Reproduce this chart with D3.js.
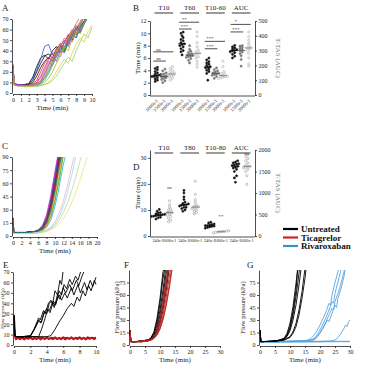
<!DOCTYPE html>
<html><head><meta charset="utf-8">
<script src="https://cdn.jsdelivr.net/npm/d3@7"></script>
<style>body{margin:0;background:#fff}svg{display:block}text{font-family:"Liberation Serif","Times New Roman",serif}</style>
</head><body><svg id="c" width="369" height="369"></svg>
<script>
// ---------- DATA ----------
const A_times=[0,0.15,0.5,1,1.5,2,2.5,3,3.5,4,4.5,5,5.5,6,6.5,7,7.5,8,8.5,9,9.5,10];
const A_colors=["#000","#000","#111","#2f4fd0","#e02020","#d020c0","#f07aa8","#f09a10","#2a9a2a","#8040c0","#20b0c0","#e0d030","#90d070","#909090","#b0b020","#e06060"];
const A_values=[
[25,9,8,8,8,9,15,25,33,36,32,40,44,38,48,55,50,60,66,72],
[24,9,8,7,8,8,12,20,28,35,37,33,42,46,40,50,56,52,62,68,74],
[23,8,7,7,7,8,10,16,24,30,34,30,38,43,38,48,54,60,57,65,72],
[24,9,8,8,8,9,14,22,32,44,46,36,40,47,42,52,58,55,63,68,74],
[27,9,8,7,7,8,9,12,20,28,34,30,40,46,42,54,60,56,64,72],
[27,9,8,8,7,7,8,10,16,24,32,38,34,44,50,46,56,62,58,66,72],
[24,8,7,7,7,7,8,9,12,20,28,36,42,38,48,56,52,62,68,74],
[24,8,7,7,7,7,7,8,10,16,24,32,40,46,42,52,60,56,66,72],
[23,8,7,7,7,7,7,7,9,14,20,28,36,44,40,50,58,64,60,68,74],
[24,8,8,7,7,7,8,9,11,18,26,34,30,40,48,44,54,62,58,67,72],
[23,8,7,7,7,7,7,8,9,12,18,26,34,42,38,48,56,52,62,66,72],
[22,8,7,7,6,6,6,7,7,8,10,14,20,26,32,28,38,46,52,48,58,64],
[22,8,7,7,6,6,6,6,7,8,9,12,16,22,28,34,30,40,48,56,52,62],
[23,8,7,7,7,7,7,8,10,15,22,30,38,34,44,52,48,58,64,72],
[23,8,7,7,7,7,7,7,8,10,14,20,28,36,44,40,52,60,56,66,72],
[24,8,7,7,7,7,8,10,14,22,30,26,36,44,52,48,58,66,72]
];
const C_times=[0,0.2,1,2,3,4,5,6,7,8,9,10,11,12,13,14,15,16,17,18,19,20];
const C_colors=["#000","#111","#6a2aa0","#2040c0","#e02020","#d020c0","#f08a10","#2a9a2a","#20b0c0","#c0a010","#8a4a20","#f4b0c8","#b0e090","#f0e080","#a0d8f0","#909090","#a01010","#108080"];
const C_values=[
[20,4,4,4,4,5,5,6,9,18,36,62,92],
[19,4,4,4,4,4,5,6,8,15,30,55,85,100],
[20,4,4,4,4,5,5,7,11,22,42,70,98],
[20,4,4,4,4,4,5,6,10,20,40,66,95],
[21,4,4,4,4,4,5,6,8,16,32,56,82,100],
[20,4,4,4,4,5,5,7,12,24,46,74,100],
[19,4,4,4,4,4,4,5,7,13,26,48,74,98],
[19,4,4,4,4,4,4,5,7,12,22,40,64,92],
[19,4,4,4,4,4,4,5,6,10,18,34,56,82,100],
[19,4,4,4,4,4,4,5,6,11,22,42,68,95],
[20,4,4,4,4,4,5,6,9,18,36,60,88,100],
[18,4,4,4,4,4,4,4,5,7,10,16,26,40,58,80,100],
[18,3,3,3,3,3,3,4,4,6,8,12,18,27,38,52,68,86,100],
[18,3,3,3,3,3,3,3,4,5,7,10,14,20,28,38,50,64,80,95],
[18,3,3,3,3,3,3,4,5,6,9,14,22,34,50,70,92],
[19,4,4,4,4,4,5,6,8,14,28,50,78,100],
[20,4,4,4,4,5,5,6,9,17,34,58,86,100],
[19,4,4,4,4,4,5,6,8,15,30,52,80,100]
];
const E_black=[
[[0,28],[0.1,10],[0.3,8],[1,8],[2,8.5],[2.4,14],[2.8,22],[3,26],[3.2,24],[3.6,33],[3.8,30],[4.2,40],[4.5,43],[4.7,39],[5,52],[5.3,48],[5.6,62],[5.8,58],[6,72]],
[[0,28],[0.1,9],[0.3,8],[1,8],[2,9],[2.5,16],[3,24],[3.3,22],[3.7,32],[4,30],[4.3,40],[4.6,42],[4.9,36],[5.3,48],[5.6,44],[6,55],[6.3,50],[6.8,58],[7.1,52],[7.6,62],[7.9,57],[8.3,66],[8.6,72]],
[[0,28],[0.1,9],[0.3,8],[1,7.5],[2,8],[3,8],[3.4,16],[3.8,26],[4.1,34],[4.4,31],[4.8,42],[5.1,39],[5.5,52],[5.8,48],[6.1,58],[6.4,54],[6.8,63],[7.1,58],[7.5,66],[7.8,62],[8.2,72]],
[[0,28],[0.1,9],[0.3,8],[1,8],[2,8],[3,8],[4,8],[4.5,9],[5,15],[5.5,22],[6,28],[6.5,35],[7,40],[7.3,37],[7.7,46],[8,42],[8.4,52],[8.7,47],[9.1,57],[9.4,52],[9.8,62],[10,58]],
[[0,28],[0.1,9],[0.3,8],[1,8],[2,8.5],[2.5,15],[3,23],[3.3,21],[3.7,31],[4,35],[4.3,33],[4.7,41],[5,38],[5.5,48],[5.8,43],[6.2,50],[6.5,45],[7,55],[7.3,48],[7.8,58],[8.1,50],[8.6,60],[8.9,53],[9.3,62],[9.6,56],[10,65]]
];
const E_red_times=[0,0.1,0.25,0.5,0.75,1,1.25,1.5,1.75,2,2.25,2.5,2.75,3,3.25,3.5,3.75,4,4.25,4.5,4.75,5,5.25,5.5,5.75,6,6.25,6.5,6.75,7,7.25,7.5,7.75,8,8.25,8.5,8.75,9,9.25,9.5,9.75,10];
const E_red=[
[29,9,6,7,6,7.5,6,7,6.5,7.5,6,7,6,7.5,6.5,7,6,7.5,6,7,6.5,7.5,6,7,6,7.5,6.5,7,6,7.5,6,7,6.5,7.5,6,7,6,7.5,6.5,7,6.5,7],
[27,8,5.5,6.5,5.5,6.8,5.2,6.6,5.8,7,5.4,6.4,5.6,6.9,5.3,6.7,5.5,7.1,5.6,6.5,5.4,6.8,5.7,6.3,5.5,7,5.3,6.6,5.8,6.9,5.4,6.5,5.6,7,5.5,6.7,5.3,6.6,5.7,6.9,5.5,6.4]
];
const F_times=[0,0.3,2,4,6,7,8,9,10,11,12,13,14,15,16];
const F_black=[
[18,4,4,5,6,8,14,28,50,80,100],
[18,4,4,5,6,7,11,20,36,58,85,100],
[17,4,4,5,6,8,13,24,42,66,95],
[17,4,4,4,5,7,10,17,30,48,72,98],
[18,4,4,5,6,9,16,32,56,88,100],
[17,4,4,4,5,6,9,15,26,42,64,90]
];
const F_red=[
[17,4,4,5,6,7,10,18,32,52,78,100],
[17,4,4,4,5,6,8,13,22,36,56,80,100],
[17,4,4,4,5,6,8,12,20,32,48,70,95],
[17,4,4,5,5,7,9,15,27,44,68,96],
[16,4,4,4,5,6,8,12,19,30,46,66,90,100]
];
const G_black=[
[[0,18],[0.3,4],[4,4.5],[6,5.5],[8,8],[9,14],[10,26],[11,46],[12,74],[12.8,100]],
[[0,18],[0.3,4],[4,4.5],[6,5.5],[8,7],[9,11],[10,20],[11,36],[12,58],[13,86],[13.5,100]],
[[0,17],[0.3,4],[4,4.5],[6,5],[8,6.5],[9,10],[10,17],[11,30],[12,48],[13,72],[14,100]],
[[0,17],[0.3,4],[4,4.5],[6,5],[8,6],[10,10],[11,16],[12,26],[13,42],[14,64],[15,92]],
[[0,18],[0.3,4],[4,4.5],[6,5],[8,6],[10,9],[11,14],[12,22],[13,36],[14,56],[15,80],[15.6,100]],
[[0,18],[0.3,4],[4,4.5],[6,5.5],[8,7.5],[9,12],[10,22],[11,40],[12,66],[12.7,95]]
];
const G_blue=[
[[0,4],[5,4],[10,4.5],[14,5],[16,6],[17,8],[18,12],[19,17],[20,24],[21,32],[22,40],[23,50],[23.5,48],[24,60],[25,75],[26,88],[26.5,100]],
[[0,4],[5,4],[10,4.5],[15,5],[17,6],[18,8],[19,12],[20,18],[21,25],[22,33],[23,42],[24,52],[24.5,50],[25,62],[26,76],[27,90],[27.5,100]],
[[0,4],[5,4],[10,4.5],[15,5],[17,6],[18,7],[19,10],[20,15],[21,21],[22,28],[23,36],[24,44],[24.5,42],[25,52],[26,62],[27,74],[28,88],[28.5,100]],
[[0,4],[10,4.5],[16,5],[18,6],[19,9],[20,14],[21,20],[22,27],[22.5,30],[23,28],[24,38],[25,48],[25.5,45],[26,56],[27,68],[28,82],[28.7,100]],
[[0,4],[10,4],[20,4.5],[24,5],[25,6],[26,9],[27,14],[28,20],[28.5,24],[29,22],[29.5,28],[30,30]],
[[0,4],[5,3.5],[10,4],[15,4],[20,4],[25,4.5],[30,4.5]],
[[0,3.5],[10,3.5],[20,3.8],[30,4]]
];
const B_groups=["T10","T60","T10-60","AUC"];
const B_rates=["1000s-1","1500s-1","2000s-1"];
const B_T10=[[2.2,2.4,2.6,2.8,3.0,3.0,3.1,3.2,3.3,3.4,3.6,3.8,4.1,4.3,4.5],[2.0,2.3,2.5,2.7,2.8,2.9,3.0,3.1,3.3,3.4,3.6,3.9,4.2],[2.4,2.7,2.9,3.1,3.2,3.3,3.5,3.6,3.8,4.0,4.3,4.6,3.4]];
const B_T60=[[6.5,7.0,7.2,7.5,7.8,8.0,8.2,8.3,8.5,8.8,9.0,9.3,9.6,10.0,10.2],[5.2,5.6,5.9,6.1,6.2,6.3,6.4,6.5,6.6,6.7,6.9,7.1,7.4,8.0],[4.5,5.0,5.5,6.0,6.2,6.5,6.7,6.8,7.0,7.3,7.8,8.5,9.5,10.2]];
const B_T1060=[[2.4,3.5,3.8,4.0,4.2,4.4,4.5,4.6,4.8,5.0,5.2,5.4,5.7,6.0],[2.7,3.0,3.2,3.3,3.4,3.5,3.6,3.7,3.9,4.1,4.4],[2.7,2.8,2.9,3.0,3.0,3.1,3.2,3.3,3.5,3.8,4.6,5.5]];
const B_AUC=[[250,262,275,285,292,298,302,306,310,318,325,335],[195,240,265,280,290,300,308,315,322,330,334],[195,210,250,280,300,310,318,325,335,350,370,395,425]];
const B_sig=[{g:0,a:0,b:1,v:5.5,t:"ns"},{g:0,a:0,b:2,v:7.0,t:"ns"},{g:1,a:0,b:1,v:10.7,t:"***"},{g:1,a:0,b:2,v:11.8,t:"**"},{g:2,a:0,b:1,v:7.5,t:"***"},{g:2,a:0,b:2,v:8.7,t:"***"},{g:3,a:0,b:1,v:426,t:"***"},{g:3,a:0,b:2,v:477,t:"*"}];
const D_groups=["T10","T80","T10-80","AUC"];
const D_rates=["240s-1","1600s-1"];
const D_T10=[[6.5,7.0,7.2,7.5,7.6,7.8,8.0,8.0,8.2,8.3,8.5,8.8,9.0,9.5,10.2],[5.5,6.0,6.8,7.5,8.0,8.5,8.8,9.0,9.2,9.5,10.0,10.5,11.0,12.0,13.5]];
const D_T80=[[9.5,10.0,10.5,11.0,11.0,11.5,11.8,12.0,12.0,12.3,12.5,13.0,14.0,15.0,16.5,17.5],[8.5,9.0,9.5,10.0,10.5,10.8,11.0,11.2,11.5,12.0,13.0,14.0,16.0,21.0]];
const D_T1080=[[3.0,3.3,3.5,3.7,3.8,4.0,4.0,4.2,4.4,4.6,5.0,5.3],[1.2,1.4,1.5,1.6,1.7,1.8,1.9,2.0]];
const D_AUC=[[1250,1350,1400,1500,1550,1580,1600,1620,1640,1650,1670,1680,1700,1720,1750],[1200,1400,1500,1550,1580,1600,1620,1620,1650,1700,1750,1800,1850,1900]];
const D_sig=[{g:0,c:1,v:18,t:"ns"},{g:2,c:1,v:7,t:"**"},{g:3,c:1,v:1880,t:"ns"}];
const legendLabels=["Untreated","Ticagrelor","Rivaroxaban"];
const legendColors=["#000","#d42020","#3a8fc8"];

// ---------- DRAW ----------
const svg=d3.select("#c");
const defs=svg.append("defs");
let clipN=0;
const FONT='"Liberation Serif","Times New Roman",serif';
function styleAxis(a,fs){
  a.selectAll("text").attr("font-size",fs||6).attr("font-family",FONT).attr("fill","#222");
  a.select(".domain").attr("stroke-width",0.8).attr("stroke","#222");
  a.selectAll(".tick line").attr("stroke-width",0.8).attr("stroke","#222");
}
function txt(x,y,s,fs,opt){
  opt=opt||{};
  const t=svg.append("text").attr("x",x).attr("y",y).text(s).attr("font-size",fs).attr("font-family",FONT)
    .attr("fill",opt.fill||"#222").attr("text-anchor",opt.anchor||"start");
  if(opt.rot) t.attr("transform",`rotate(${opt.rot},${x},${y})`);
  if(opt.bold) t.attr("font-weight","bold");
  return t;
}
function gridTraces(times,vals,colors,w){
  return vals.map((v,i)=>({color:colors[i],w:w,pts:v.map((p,j)=>[times[j],p]).filter(d=>d[1]!=null)}));
}
function linePanel(p){
  const x=d3.scaleLinear().domain(p.xd).range(p.xr);
  const y=d3.scaleLinear().domain(p.yd).range(p.yr);
  const id="clip"+(clipN++);
  defs.append("clipPath").attr("id",id).append("rect")
    .attr("x",p.xr[0]-1).attr("y",p.yr[1]).attr("width",p.xr[1]-p.xr[0]+3).attr("height",p.yr[0]-p.yr[1]+2);
  const g=svg.append("g");
  const line=d3.line().x(d=>x(d[0])).y(d=>y(d[1]));
  const lg=g.append("g").attr("clip-path",`url(#${id})`);
  p.traces.forEach(t=>{
    lg.append("path").attr("d",line(t.pts)).attr("fill","none").attr("stroke",t.color)
      .attr("stroke-width",t.w||0.8).attr("stroke-linejoin","round");
  });
  const xa=g.append("g").attr("transform",`translate(0,${p.yr[0]+1})`)
    .call(d3.axisBottom(x).tickValues(p.xt).tickSize(2).tickSizeOuter(0).tickPadding(1.5));
  const ya=g.append("g").attr("transform",`translate(${p.xr[0]-1},0)`)
    .call(d3.axisLeft(y).tickValues(p.yt).tickSize(2).tickSizeOuter(0).tickPadding(1.5));
  styleAxis(xa);styleAxis(ya);
  txt((p.xr[0]+p.xr[1])/2,p.yr[0]+17,"Time (min)",7,{anchor:"middle"});
  if(p.ytitle) txt(p.ytitleX,(p.yr[0]+p.yr[1])/2,p.ytitle,p.ytitleFs||6.5,{anchor:"middle",rot:-90});
}
function swarm(vals,yS,cx,dx,binH){
  const s=vals.map(v=>({v:v,y:yS(v)})).sort((a,b)=>b.y-a.y);
  const out=[];let bin=[];let start=null;
  function flush(){const n=bin.length;bin.forEach((d,i)=>out.push({v:d.v,y:d.y,x:cx+(i-(n-1)/2)*dx}));bin=[];}
  s.forEach(d=>{if(start===null||start-d.y>binH){flush();start=d.y;}bin.push(d);});
  flush();
  return out;
}
function dotPanel(p){
  const gx=d3.scaleBand().domain(p.groups).range(p.xr).paddingInner(0.12).paddingOuter(0.02);
  const cx=d3.scalePoint().domain(p.rates).range([0,gx.bandwidth()]).padding(0.5);
  const yL=d3.scaleLinear().domain(p.yLd).range(p.yr);
  const yR=d3.scaleLinear().domain(p.yRd).range(p.yr);
  const g=svg.append("g");
  p.data.forEach((cols,gi)=>{
    const gname=p.groups[gi];
    const ys=gi===p.groups.length-1?yR:yL;
    const gx0=gx(gname);
    txt(gx0+gx.bandwidth()/2,p.headerY,gname,7,{anchor:"middle"});
    g.append("line").attr("x1",gx0+2).attr("x2",gx0+gx.bandwidth()-2).attr("y1",p.headerY+3).attr("y2",p.headerY+3)
      .attr("stroke","#222").attr("stroke-width",0.9);
    cols.forEach((vals,ci)=>{
      const c=gx0+cx(p.rates[ci]);
      const st=p.styles[ci];
      swarm(vals,ys,c,2.2,2.2).forEach(d=>{
        g.append("circle").attr("cx",d.x).attr("cy",d.y).attr("r",1.1)
          .attr("fill",st.fill).attr("stroke",st.stroke).attr("stroke-width",0.5);
      });
      const m=d3.median(vals);
      g.append("line").attr("x1",c-4).attr("x2",c+4).attr("y1",ys(m)).attr("y2",ys(m))
        .attr("stroke",st.line).attr("stroke-width",0.9);
      if(p.labelRot){
        txt(c+2,p.yr[0]+6,p.rates[ci],4.8,{anchor:"end",rot:-45});
      } else {
        txt(c,p.yr[0]+6,p.rates[ci],4.2,{anchor:"middle"});
      }
    });
  });
  (p.sig||[]).forEach(s=>{
    const gname=p.groups[s.g];
    const ys=s.g===p.groups.length-1?yR:yL;
    const gx0=gx(gname);
    if(s.b!==undefined){
      const x1=gx0+cx(p.rates[s.a])-3,x2=gx0+cx(p.rates[s.b])+2;
      g.append("line").attr("x1",x1).attr("x2",x2).attr("y1",ys(s.v)).attr("y2",ys(s.v)).attr("stroke","#222").attr("stroke-width",0.8);
      txt((x1+gx0+cx(p.rates[s.a+1]))/2,ys(s.v)-1.2,s.t,5,{anchor:"middle"});
    } else {
      txt(gx0+cx(p.rates[s.c]),ys(s.v),s.t,5,{anchor:"middle"});
    }
  });
  const la=g.append("g").attr("transform",`translate(${p.xr[0]-2},0)`)
    .call(d3.axisLeft(yL).tickValues(p.yLt).tickSize(2).tickSizeOuter(0).tickPadding(1.5).tickFormat(d3.format("d")));
  const ra=g.append("g").attr("transform",`translate(${p.xr[1]+2},0)`)
    .call(d3.axisRight(yR).tickValues(p.yRt).tickSize(2).tickSizeOuter(0).tickPadding(1.5).tickFormat(d3.format("d")));
  g.append("line").attr("x1",p.xr[0]-2).attr("x2",p.xr[1]+2).attr("y1",p.yr[0]+1).attr("y2",p.yr[0]+1).attr("stroke","#222").attr("stroke-width",0.8);
  styleAxis(la);styleAxis(ra);
  txt(p.xr[0]-12,(p.yr[0]+p.yr[1])/2,"Time (min)",7,{anchor:"middle",rot:-90});
  txt(p.xr[1]+23,(p.yr[0]+p.yr[1])/2,"T-TAS (AUC)",7,{anchor:"middle",rot:90,fill:"#777"});
}

// Panel A
txt(2,11,"A",9);
linePanel({xd:[0,10],yd:[0,70],xr:[13,92],yr:[93,19],xt:d3.range(0,11),yt:d3.range(0,71,10),
  traces:gridTraces(A_times,A_values,A_colors,0.8)});
// Panel B
txt(133,11,"B",9);
dotPanel({groups:B_groups,rates:B_rates,data:[B_T10,B_T60,B_T1060,B_AUC],xr:[152,253],yr:[95,21],
  yLd:[0,12],yLt:d3.range(0,13,2),yRd:[0,500],yRt:d3.range(0,501,100),headerY:10,labelRot:true,sig:B_sig,
  styles:[{fill:"#111",stroke:"#111",line:"#111"},{fill:"#777",stroke:"#777",line:"#555"},{fill:"#fff",stroke:"#999",line:"#888"}]});
// Panel C
txt(2,149,"C",9);
linePanel({xd:[0,20],yd:[0,90],xr:[13,97],yr:[236,157],xt:d3.range(0,21,2),yt:d3.range(0,91,15),
  traces:gridTraces(C_times,C_values,C_colors,0.8)});
// Panel D
txt(133,170,"D",9);
dotPanel({groups:D_groups,rates:D_rates,data:[D_T10,D_T80,D_T1080,D_AUC],xr:[152,253],yr:[236,150],
  yLd:[0,33],yLt:[0,10,20,30],yRd:[0,2000],yRt:d3.range(0,2001,500),headerY:150,labelRot:false,sig:D_sig,
  styles:[{fill:"#111",stroke:"#111",line:"#111"},{fill:"#fff",stroke:"#888",line:"#777"}]});
// Legend
legendLabels.forEach((l,i)=>{
  svg.append("line").attr("x1",283).attr("x2",298).attr("y1",229+i*8.5).attr("y2",229+i*8.5).attr("stroke",legendColors[i]).attr("stroke-width",2.2);
  txt(301,232+i*8.5,l,9,{bold:true,fill:"#111"});
});
// Panel E
txt(3,268,"E",9);
linePanel({xd:[0,10],yd:[0,70],xr:[14,96],yr:[345,272],xt:d3.range(0,11,2),yt:d3.range(0,71,10),
  ytitle:"Flow pressure (kPa)",ytitleX:4,ytitleFs:5,
  traces:gridTraces(E_red_times,E_red,["#a81010","#c01818"],1.8).concat(E_black.map(p=>({color:"#000",w:0.9,pts:p})))});
// Panel F
txt(124,268,"F",9);
linePanel({xd:[0,30],yd:[0,90],xr:[130,220],yr:[345,270],xt:d3.range(0,31,5),yt:d3.range(0,76,15),
  ytitle:"Flow pressure (kPa)",ytitleX:119,
  traces:gridTraces(F_times,F_black,F_black.map(()=>"#000"),0.9).concat(gridTraces(F_times,F_red,F_red.map(()=>"#c02020"),0.9))});
// Panel G
txt(247,268,"G",9);
linePanel({xd:[0,30],yd:[0,90],xr:[260,350],yr:[345,270],xt:d3.range(0,31,5),yt:d3.range(0,76,15),
  ytitle:"Flow pressure (kPa)",ytitleX:245,
  traces:G_blue.map(p=>({color:"#5aa5de",w:0.9,pts:p})).concat(G_black.map(p=>({color:"#000",w:0.9,pts:p})))});
</script></body></html>
